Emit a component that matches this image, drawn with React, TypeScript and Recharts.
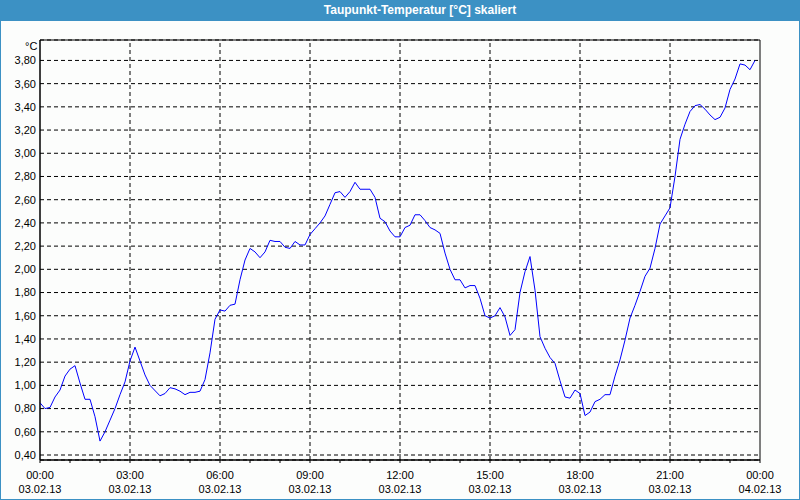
import React from 'react';
import { LineChart, Line, XAxis, YAxis, CartesianGrid, ReferenceLine, ReferenceArea } from 'recharts';

const minutes = [
  0, 10, 20, 30, 40, 50, 60, 70, 80, 90, 100, 110, 120, 130, 140, 150, 160, 170, 180, 190,
  200, 210, 220, 240, 250, 260, 270, 280, 290, 300, 310, 320, 330, 340, 350, 360, 370, 380, 390, 400,
  410, 420, 430, 440, 450, 460, 470, 480, 490, 500, 510, 520, 530, 540, 550, 560, 570, 580, 590, 600,
  610, 620, 630, 640, 650, 660, 670, 680, 690, 700, 710, 720, 730, 740, 750, 760, 770, 780, 790, 800,
  810, 820, 830, 840, 850, 860, 870, 880, 890, 900, 910, 920, 930, 940, 950, 960, 970, 980, 990, 1000,
  1010, 1020, 1030, 1040, 1050, 1060, 1070, 1080, 1090, 1100, 1110, 1120, 1130, 1140, 1150, 1160, 1170, 1180, 1190, 1200,
  1210, 1220, 1230, 1240, 1250, 1260, 1270, 1280, 1290, 1300, 1310, 1320, 1330, 1340, 1350, 1360, 1370, 1380, 1390, 1400,
  1410, 1420, 1430,
];

const values = [
  0.85, 0.80, 0.81, 0.90, 0.96, 1.08, 1.14, 1.17, 1.02, 0.88, 0.88, 0.73, 0.52, 0.60, 0.70, 0.80, 0.92, 1.03, 1.21, 1.33,
  1.21, 1.09, 1.00, 0.91, 0.93, 0.98, 0.97, 0.95, 0.92, 0.94, 0.94, 0.95, 1.05, 1.28, 1.57, 1.65, 1.64, 1.69, 1.70, 1.91,
  2.08, 2.18, 2.15, 2.10, 2.15, 2.25, 2.24, 2.24, 2.19, 2.18, 2.24, 2.21, 2.21, 2.30, 2.35, 2.40, 2.46, 2.56, 2.66, 2.67,
  2.62, 2.67, 2.75, 2.69, 2.69, 2.69, 2.62, 2.44, 2.41, 2.33, 2.28, 2.28, 2.36, 2.38, 2.47, 2.47, 2.42, 2.36, 2.34, 2.31,
  2.14, 2.00, 1.91, 1.91, 1.84, 1.86, 1.86, 1.75, 1.60, 1.58, 1.60, 1.67, 1.59, 1.43, 1.48, 1.80, 1.98, 2.11, 1.82, 1.42,
  1.32, 1.24, 1.19, 1.04, 0.90, 0.89, 0.96, 0.93, 0.74, 0.77, 0.86, 0.88, 0.92, 0.92, 1.08, 1.22, 1.39, 1.58, 1.69, 1.81,
  1.94, 2.01, 2.18, 2.39, 2.46, 2.53, 2.80, 3.12, 3.25, 3.36, 3.41, 3.42, 3.38, 3.33, 3.29, 3.31, 3.39, 3.55, 3.64, 3.77,
  3.76, 3.72, 3.80,
];

const yTicks = [0.4, 0.6, 0.8, 1.0, 1.2, 1.4, 1.6, 1.8, 2.0, 2.2, 2.4, 2.6, 2.8, 3.0, 3.2, 3.4, 3.6, 3.8];
const xTicks = [0, 60, 120, 180, 240, 300, 360, 420, 480, 540, 600, 660, 720, 780, 840, 900, 960, 1020, 1080, 1140, 1200, 1260, 1320, 1380, 1440];
const majorTicks = [0, 180, 360, 540, 720, 900, 1080, 1260, 1440];
const timeLabels = ['00:00', '03:00', '06:00', '09:00', '12:00', '15:00', '18:00', '21:00', '00:00'];
const dateLabels = ['03.02.13', '03.02.13', '03.02.13', '03.02.13', '03.02.13', '03.02.13', '03.02.13', '03.02.13', '04.02.13'];
const innerGridX = [180, 360, 540, 720, 900, 1080, 1260];

const title = 'Taupunkt-Temperatur [°C] skaliert';
const unitLabel = '°C';

const Y_MIN = 0.357;
const Y_MAX = 3.976;
const FONT = '"Liberation Sans", Arial, sans-serif';
const DASH = '4 3';

const data = minutes.map((m, i) => ({ m, v: values[i] }));

function XTick(props: any) {
  const { x, y, payload } = props;
  const idx = majorTicks.indexOf(payload.value);
  if (idx < 0) return <g />;
  return (
    <g>
      <text x={x} y={y + 16} textAnchor="middle" fontSize={11} fontFamily={FONT} fill="#000">
        {timeLabels[idx]}
      </text>
      <text x={x} y={y + 30} textAnchor="middle" fontSize={11} fontFamily={FONT} fill="#000">
        {dateLabels[idx]}
      </text>
    </g>
  );
}

export default function App() {
  return (
    <div style={{ position: 'absolute', left: 0, top: 0, width: 800, height: 500, background: '#fcfdfc', fontFamily: FONT }}>
      <div style={{ position: 'absolute', left: 0, top: 0 }}>
        <LineChart width={800} height={500} data={data} margin={{ top: 40, right: 40, left: 0, bottom: 0 }}>
          <CartesianGrid vertical={false} stroke="#000" strokeDasharray={DASH} />
          {innerGridX.map((x) => (
            <ReferenceLine key={x} x={x} stroke="#000" strokeDasharray={DASH} />
          ))}
          <XAxis
            dataKey="m"
            type="number"
            domain={[0, 1440]}
            ticks={xTicks}
            interval={0}
            tick={<XTick />}
            tickSize={3}
            tickMargin={0}
            tickLine={{ stroke: '#000' }}
            axisLine={{ stroke: '#000' }}
            height={40}
          />
          <YAxis
            type="number"
            domain={[Y_MIN, Y_MAX]}
            allowDataOverflow
            ticks={yTicks}
            interval={0}
            tickFormatter={(v: number) => v.toFixed(2).replace('.', ',')}
            width={40}
            tickLine={false}
            tickSize={0}
            tickMargin={4}
            axisLine={{ stroke: '#000' }}
            tick={{ fill: '#000', fontSize: 11, fontFamily: FONT }}
          />
          <ReferenceArea x1={0} x2={1440} y1={Y_MIN} y2={Y_MAX} fill="none" stroke="#000" strokeWidth={1} />
          <Line
            type="linear"
            dataKey="v"
            stroke="#0000ff"
            strokeWidth={1}
            dot={false}
            isAnimationActive={false}
          />
        </LineChart>
      </div>
      <div
        style={{
          position: 'absolute',
          left: 0,
          top: 0,
          width: 800,
          height: 500,
          boxSizing: 'border-box',
          border: '1px solid #3c91c4',
          pointerEvents: 'none',
        }}
      />
      <div
        style={{
          position: 'absolute',
          left: 0,
          top: 0,
          width: 800,
          height: 21,
          background: '#3c91c4',
          color: '#fff',
          fontWeight: 'bold',
          fontSize: 12,
          lineHeight: '21px',
          textAlign: 'center',
          paddingLeft: 40,
          boxSizing: 'border-box',
        }}
      >
        {title}
      </div>
      <div style={{ position: 'absolute', left: 25, top: 40, fontSize: 11, color: '#000', lineHeight: '12px' }}>
        {unitLabel}
      </div>
    </div>
  );
}
